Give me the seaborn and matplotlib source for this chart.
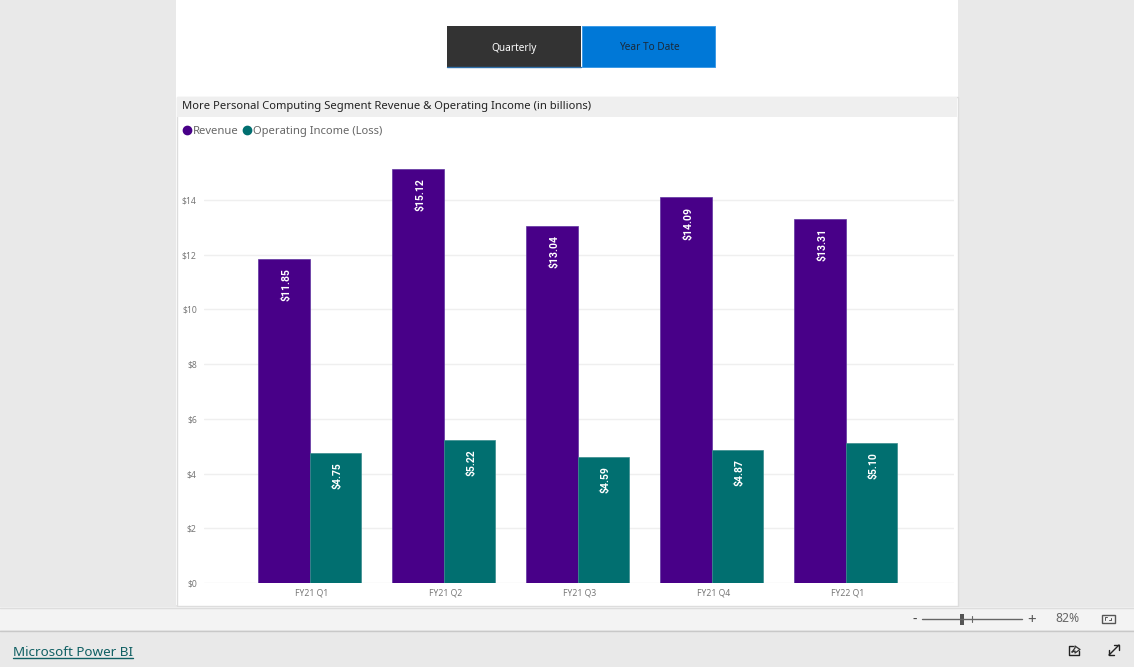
import matplotlib
matplotlib.use('Agg')
import matplotlib.pyplot as plt
from matplotlib.patches import Rectangle
from matplotlib.transforms import ScaledTranslation
import pandas as pd
import seaborn as sns

quarters = ['FY21 Q1', 'FY21 Q2', 'FY21 Q3', 'FY21 Q4', 'FY22 Q1']
revenue = [11.85, 15.12, 13.04, 14.09, 13.31]
operating_income = [4.75, 5.22, 4.59, 4.87, 5.10]
y_ticks = [0, 2, 4, 6, 8, 10, 12, 14]
series_names = ['Revenue', 'Operating Income (Loss)']
series_colors = ['#480088', '#016F70']
edge_colors = ['#5F33A0', '#3A8C8D']

W, H = 1134, 667

sns.set_theme(style='white')
plt.rcParams['font.family'] = ['Noto Sans', 'DejaVu Sans']

data = pd.DataFrame({
    'quarter': quarters * 2,
    'value': revenue + operating_income,
    'series': [series_names[0]] * 5 + [series_names[1]] * 5,
})

fig = plt.figure(figsize=(W / 100, H / 100), dpi=100, facecolor='#E9E9E9')

# page furniture, drawn in pixel coordinates
bg = fig.add_axes([0, 0, 1, 1], zorder=0)
bg.set_xlim(0, W)
bg.set_ylim(H, 0)
bg.axis('off')

bg.add_patch(Rectangle((176, 0), 782, 605, fc='white', ec='none'))
bg.add_patch(Rectangle((176.5, 96.5), 781, 509, fc='white', ec='#DDDDDD', lw=1))
bg.add_patch(Rectangle((177, 97), 780, 20, fc='#EFEFEF', ec='none'))
bg.text(182, 106.5, 'More Personal Computing Segment Revenue & Operating Income (in billions)',
        fontsize=8.07, color='#222222', va='center', ha='left')

# buttons
bg.add_patch(Rectangle((447, 26), 134, 41, fc='#333333', ec='none'))
bg.plot([447, 581], [67, 67], color='#2F6FA8', lw=1)
bg.add_patch(Rectangle((582, 26), 133, 41, fc='#0078D7', ec='#3C9AE6', lw=0.7))
bg.text(514, 48, 'Quarterly', fontsize=7.25, color='white', ha='center', va='center')
bg.text(649, 48, 'Year To Date', fontsize=7.25, color='#1A2A3A', ha='center', va='center')

# footer
bg.add_patch(Rectangle((0, 607), W, 23, fc='#F3F3F3', ec='none'))
bg.plot([0, W], [607.5, 607.5], color='#DDDDDD', lw=1)
bg.plot([0, W], [630.5, 630.5], color='#C8C8C8', lw=1)
bg.text(13, 652.5, 'Microsoft Power BI', fontsize=9.7, color='#0F5F63', ha='left', va='center')
bg.plot([13, 133], [658, 658], color='#0F5F63', lw=1)

# zoom controls
bg.text(915, 620.5, '-', fontsize=10, color='#444444', ha='center', va='center', fontweight='bold')
bg.plot([922, 1022], [619, 619], color='#666666', lw=1)
bg.plot([972, 972], [616, 622], color='#666666', lw=0.8)
bg.add_patch(Rectangle((960, 614), 4, 11, fc='#555555', ec='none'))
bg.text(1032, 620.5, '+', fontsize=11, color='#555555', ha='center', va='center')
bg.text(1067, 619, '82%', fontsize=8.75, color='#666666', ha='center', va='center')
bg.add_patch(Rectangle((1101.5, 614.5), 13, 8.5, fc='none', ec='#555555', lw=1))
bg.plot([1105, 1105, 1107], [619.5, 617, 617], color='#555555', lw=0.7)
bg.plot([1111, 1111, 1109], [617.5, 620, 620], color='#555555', lw=0.7)

# share and expand icons
bg.plot([1073, 1069, 1069, 1079, 1079], [646, 646, 655, 655, 651], color='#222222', lw=1)
bg.plot([1072, 1075, 1075, 1080, 1075, 1075, 1072],
        [652, 648, 646, 649.5, 653, 651, 652], color='#333333', lw=0.9)
bg.plot([1109, 1119], [655, 645], color='#222222', lw=1)
bg.plot([1114, 1119, 1119], [645, 645, 650], color='#222222', lw=1)
bg.plot([1109, 1109, 1114], [650, 655, 655], color='#222222', lw=1)

# legend row
legend_x = [187, 247]
for name, color, x in zip(series_names, series_colors, legend_x):
    bg.plot([x], [130], ls='none', marker='o', ms=6, mfc=color, mec=color)
    bg.text(x + 6, 134, name, fontsize=8.05, color='#666666', ha='left', va='baseline')

# chart
left, right, top, bottom = 203.7, 953.7, 160, 583
ax = fig.add_axes([left / W, 1 - bottom / H, (right - left) / W, (bottom - top) / H], zorder=1)
ax.patch.set_alpha(0)

sns.barplot(data=data, x='quarter', y='value', hue='series', hue_order=series_names,
            palette=series_colors, width=0.77, gap=0, saturation=1, legend=False, ax=ax)

ax.set_xlim(-0.791, 4.806)
ax.set_ylim(0, (bottom - top) / 27.36)
ax.set_yticks(y_ticks)
ax.set_yticklabels([f'\\${v}' for v in y_ticks])
ax.set_xlabel('')
ax.set_ylabel('')
ax.set_axisbelow(True)
ax.grid(axis='y', color='#EFEFEF', lw=1)
ax.tick_params(axis='y', length=0, pad=5, labelsize=6.2, labelcolor='#777777')
ax.tick_params(axis='x', length=0, pad=4, labelsize=6.2, labelcolor='#777777')
sns.despine(ax=ax, left=True, bottom=True)

# x labels sit a little right of the bar pair centre
nudge = ScaledTranslation(1.5 / 100, 0, fig.dpi_scale_trans)
for lbl in ax.get_xticklabels():
    lbl.set_transform(lbl.get_transform() + nudge)

for bars, edge in zip(ax.containers, edge_colors):
    for bar in bars:
        bar.set_edgecolor(edge)
        bar.set_linewidth(0.5)
    texts = ax.bar_label(bars, labels=[f'\\${b.get_height():.2f}' for b in bars], padding=-6.5,
                         rotation=90, color='white', fontsize=7.5, fontweight='bold',
                         family=['Roboto', 'DejaVu Sans'])
    for t in texts:
        t.set_va('top')
        t.set_ha('center')
        t.xyann = (1.7, -6.5)

fig.savefig('out.png', dpi=100, facecolor=fig.get_facecolor())
